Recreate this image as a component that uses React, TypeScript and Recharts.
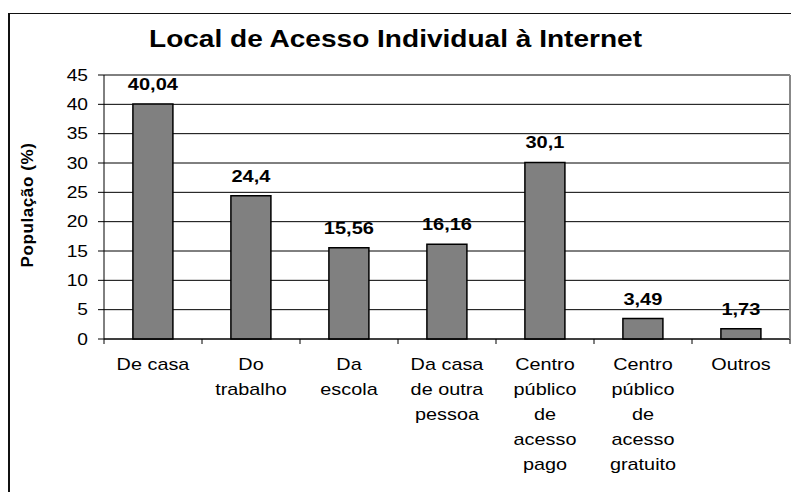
import React from 'react';
import { BarChart, Bar, XAxis, YAxis, CartesianGrid, LabelList } from 'recharts';

const categories = [
  'De casa',
  'Do\ntrabalho',
  'Da\nescola',
  'Da casa\nde outra\npessoa',
  'Centro\npúblico\nde\nacesso\npago',
  'Centro\npúblico\nde\nacesso\ngratuito',
  'Outros',
];
const values = [40.04, 24.4, 15.56, 16.16, 30.1, 3.49, 1.73];
const yTicks = [0, 5, 10, 15, 20, 25, 30, 35, 40, 45];
const title = 'Local de Acesso Individual à Internet';
const yLabel = 'População (%)';

const data = categories.map((c, i) => ({ category: c, value: values[i] }));

const FONT = '"Liberation Sans", Arial, sans-serif';
const SX = 1.24;

const stretch = (x: number, s: number = SX) => `matrix(${s},0,0,1,${x - s * x},0)`;

const XTick = (props: any) => {
  const { x, y, payload, index } = props;
  const half = payload && typeof payload.offset === 'number' && payload.offset > 0 ? payload.offset : 49;
  const lines = String(payload.value).split('\n');
  const isLast = index === categories.length - 1;
  return (
    <g>
      <line x1={x - half} x2={x - half} y1={y} y2={y + 5} stroke="#000" strokeWidth={1} />
      {isLast && <line x1={x + half} x2={x + half} y1={y} y2={y + 5} stroke="#000" strokeWidth={1} />}
      <text
        x={x}
        y={y + 31}
        textAnchor="middle"
        fontSize={16}
        fontFamily={FONT}
        fill="#000"
        transform={stretch(x)}
      >
        {lines.map((l, i) => (
          <tspan key={i} x={x} dy={i === 0 ? 0 : 25}>
            {l}
          </tspan>
        ))}
      </text>
    </g>
  );
};

const YTick = (props: any) => {
  const { x, y, payload } = props;
  return (
    <text
      x={x}
      y={y}
      dy="0.355em"
      textAnchor="end"
      fontSize={16}
      fontFamily={FONT}
      fill="#000"
      transform={stretch(x, 1.2)}
    >
      {payload.value}
    </text>
  );
};

const BarValueLabel = (props: any) => {
  const { x, y, width, value } = props;
  const cx = x + width / 2;
  return (
    <text
      x={cx}
      y={y - 14}
      textAnchor="middle"
      fontSize={16}
      fontWeight="bold"
      fontFamily={FONT}
      fill="#000"
      transform={stretch(cx, 1.25)}
    >
      {String(value).replace('.', ',')}
    </text>
  );
};

export default function App() {
  return (
    <div style={{ position: 'absolute', left: 0, top: 0, width: 791, height: 492, overflow: 'hidden', background: '#fff' }}>
      <div
        style={{
          position: 'absolute',
          left: 8,
          top: 13,
          width: 820,
          height: 520,
          borderLeft: '2px solid #111',
          borderTop: '1.5px solid #111',
          boxSizing: 'border-box',
        }}
      />
      <svg width={791} height={70} style={{ position: 'absolute', left: 0, top: 0 }}>
        <text
          x={395.5}
          y={47}
          textAnchor="middle"
          fontSize={23}
          fontWeight="bold"
          fontFamily={FONT}
          fill="#000"
          transform={stretch(395.5, 1.22)}
        >
          {title}
        </text>
      </svg>
      <div style={{ position: 'absolute', left: 0, top: 0 }}>
        <BarChart
          width={791}
          height={492}
          data={data}
          margin={{ top: 75, right: 1, bottom: 0, left: 0 }}
          barCategoryGap="29.5%"
        >
          <CartesianGrid vertical={false} stroke="#000" strokeWidth={1} />
          <XAxis
            dataKey="category"
            interval={0}
            height={153}
            tickSize={0}
            tickMargin={0}
            tickLine={false}
            axisLine={{ stroke: '#000', strokeWidth: 1 }}
            tick={<XTick />}
          />
          <YAxis
            width={104}
            domain={[0, 45]}
            ticks={yTicks}
            interval={0}
            tickSize={6}
            tickMargin={10}
            axisLine={{ stroke: '#000', strokeWidth: 1 }}
            tickLine={{ stroke: '#000', strokeWidth: 1 }}
            tick={<YTick />}
            label={{
              value: yLabel,
              content: (p: any) => {
                const vb = p.viewBox || { x: 0, y: 75, height: 264 };
                const cx = vb.x + 33;
                const cy = vb.y + vb.height / 2 - 2;
                return (
                  <text
                    x={cx}
                    y={cy}
                    transform={`rotate(-90 ${cx} ${cy})`}
                    textAnchor="middle"
                    fontSize={17}
                    fontWeight="bold"
                    fontFamily={FONT}
                    letterSpacing={0.6}
                    fill="#000"
                  >
                    {yLabel}
                  </text>
                );
              },
            }}
          />
          <Bar dataKey="value" fill="#808080" stroke="#000" strokeWidth={1.5} isAnimationActive={false}>
            <LabelList dataKey="value" content={<BarValueLabel />} />
          </Bar>
        </BarChart>
      </div>
      <div style={{ position: 'absolute', left: 789, top: 75, width: 1.5, height: 264, background: '#888' }} />
    </div>
  );
}
